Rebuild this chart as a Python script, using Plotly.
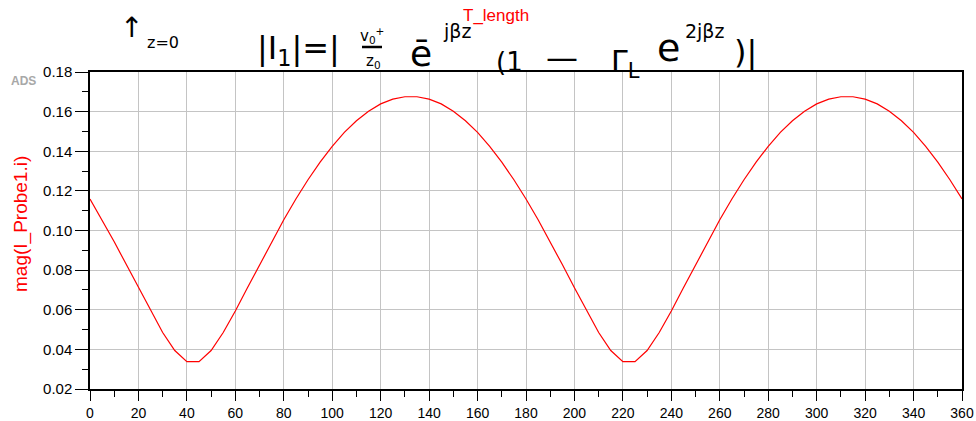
import plotly.graph_objects as go

# Swept line length (degrees) and probe current magnitude
t_length = list(range(0, 365, 5))
mag_i = [
    0.1159, 0.1054, 0.0943, 0.0828, 0.0711, 0.0594, 0.0485, 0.0394, 0.0338, 0.0338,
    0.0394, 0.0485, 0.0594, 0.0711, 0.0828, 0.0943, 0.1054, 0.1159, 0.1256, 0.1345,
    0.1425, 0.1495, 0.1554, 0.1602, 0.1639, 0.1663, 0.1675, 0.1675, 0.1663, 0.1639,
    0.1602, 0.1554, 0.1495, 0.1425, 0.1345, 0.1256,
    0.1159, 0.1054, 0.0943, 0.0828, 0.0711, 0.0594, 0.0485, 0.0394, 0.0338, 0.0338,
    0.0394, 0.0485, 0.0594, 0.0711, 0.0828, 0.0943, 0.1054, 0.1159, 0.1256, 0.1345,
    0.1425, 0.1495, 0.1554, 0.1602, 0.1639, 0.1663, 0.1675, 0.1675, 0.1663, 0.1639,
    0.1602, 0.1554, 0.1495, 0.1425, 0.1345, 0.1256, 0.1159,
]
x_ticks = list(range(0, 361, 20))
y_ticks = [0.02, 0.04, 0.06, 0.08, 0.10, 0.12, 0.14, 0.16, 0.18]

W, H = 976, 421
L, R, T, B = 90, 14, 72, 32
PW, PH = W - L - R, H - T - B


def px(x):
    return (x - L) / PW


def py(y):
    return (H - B - y) / PH


fig = go.Figure()
fig.add_trace(go.Scatter(
    x=t_length, y=mag_i, mode="lines",
    line=dict(color="#ff0000", width=1.2),
    hoverinfo="x+y", showlegend=False,
))

fig.update_xaxes(
    range=[0, 360], tickvals=x_ticks, ticktext=[str(v) for v in x_ticks],
    ticks="outside", ticklen=10, tickwidth=1.3, tickcolor="#000",
    showline=True, linecolor="#000", linewidth=1.5, mirror=True,
    showgrid=True, gridcolor="#c4c4c4", gridwidth=1.3, zeroline=False,
    minor=dict(dtick=10, ticks="outside", ticklen=6, tickcolor="#000", showgrid=False),
    tickfont=dict(family="Liberation Sans, Arial, sans-serif", size=14, color="#000"),
    automargin=False,
)
fig.update_yaxes(
    range=[0.02, 0.18], tickvals=y_ticks, ticktext=[f"{v:.2f}" for v in y_ticks],
    ticks="outside", ticklen=13, tickwidth=1.3, tickcolor="#000",
    showline=True, linecolor="#000", linewidth=1.5, mirror=True,
    showgrid=True, gridcolor="#c4c4c4", gridwidth=1.3, zeroline=False,
    minor=dict(dtick=0.01, ticks="outside", ticklen=6, tickcolor="#000", showgrid=False),
    tickfont=dict(family="Liberation Sans, Arial, sans-serif", size=15, color="#000"),
    automargin=False,
)

ann = []


def note(text, x, y, size, color="#000", family="DejaVu Sans, sans-serif", angle=0):
    ann.append(dict(
        text=text, x=px(x), y=py(y), xref="paper", yref="paper",
        xanchor="center", yanchor="middle", showarrow=False, textangle=angle,
        font=dict(family=family, size=size, color=color),
    ))


# Axis titles and the ADS badge
note("mag(I_Probe1.i)", 21, 224, 19, color="#ff0000",
     family="Liberation Sans, Arial, sans-serif", angle=-90)
note("T_length", 496, 15, 17, color="#ff0000", family="Liberation Sans, Arial, sans-serif")
note("<b>ADS</b>", 23, 81, 12, color="#a8a8a8", family="Liberation Sans, Arial, sans-serif")

# Hand-written current expression along the top
note("↑", 131, 27, 28)
note("z=0", 163, 43, 16)
note("|I<sub>1</sub>|=|", 298, 50, 32)
note("v<sub>0</sub><sup>+</sup>", 372, 35, 15)
note("z<sub>0</sub>", 373, 62, 15)
note("e\u0304", 421, 54, 36)
note("jβz", 457, 31, 19)
note("(1", 509, 62, 26)
note("—", 562, 58, 32)
note("Γ<sub>L</sub>", 625, 64, 30)
note("e", 668, 48, 38)
note("2jβz", 704, 31, 19)
note(")|", 745, 52, 32)

fig.update_layout(
    width=W, height=H,
    margin=dict(l=L, r=R, t=T, b=B),
    paper_bgcolor="#ffffff", plot_bgcolor="#ffffff",
    annotations=ann,
    shapes=[dict(type="line", xref="paper", yref="paper",
                 x0=px(362), x1=px(382), y0=py(47), y1=py(47),
                 line=dict(color="#000", width=2.5))],
)

fig.write_html("out.html")
